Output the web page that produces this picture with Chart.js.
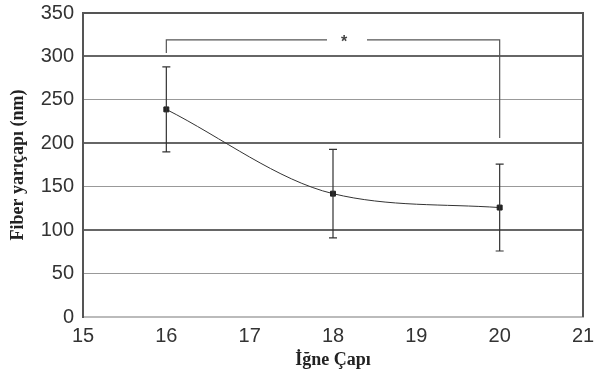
<!DOCTYPE html>
<html>
<head>
<meta charset="utf-8">
<script src="https://cdn.jsdelivr.net/npm/chart.js@4/dist/chart.umd.min.js"></script>
<style>
  html, body { margin: 0; padding: 0; background: #fff; }
  #wrap { width: 596px; height: 383px; }
</style>
</head>
<body>
<div id="wrap"><canvas id="myChart"></canvas></div>
<script>
// data
var needleSize = [16, 18, 20];
var fiberRadius = [239, 142, 126];
var radiusErr = [49, 51, 50];
var yTicks = [0, 50, 100, 150, 200, 250, 300, 350];
var xTicks = [15, 16, 17, 18, 19, 20, 21];
// significance bracket between 16 and 20
var bracketX = [16, 20];
var bracketTop = 319;
var bracketLegs = [304, 206];

var ctx = document.getElementById("myChart");
var tickFont = { family: '"Liberation Sans", Arial, sans-serif', size: 20 };
var titleFont = { family: '"Liberation Serif", "Times New Roman", serif', size: 18, weight: 'bold' };

var errorBars = {
    id: 'errorBars',
    afterDatasetsDraw: function (chart) {
        var xs = chart.scales.x, ys = chart.scales.y;
        var c = chart.ctx;
        c.save();
        c.strokeStyle = '#333';
        c.lineWidth = 1.2;
        needleSize.forEach(function (n, i) {
            var px = xs.getPixelForValue(n);
            var top = ys.getPixelForValue(fiberRadius[i] + radiusErr[i]);
            var bot = ys.getPixelForValue(fiberRadius[i] - radiusErr[i]);
            c.beginPath();
            c.moveTo(px, top); c.lineTo(px, bot);
            c.moveTo(px - 4, top); c.lineTo(px + 4, top);
            c.moveTo(px - 4, bot); c.lineTo(px + 4, bot);
            c.stroke();
        });

        // bracket with star
        var x1 = xs.getPixelForValue(bracketX[0]);
        var x2 = xs.getPixelForValue(bracketX[1]);
        var yt = ys.getPixelForValue(bracketTop);
        var mid = (x1 + x2) / 2;
        c.strokeStyle = '#555';
        c.lineWidth = 1.2;
        c.beginPath();
        c.moveTo(x1, ys.getPixelForValue(bracketLegs[0]));
        c.lineTo(x1, yt);
        c.lineTo(mid - 6, yt);
        c.moveTo(mid + 34, yt);
        c.lineTo(x2, yt);
        c.lineTo(x2, ys.getPixelForValue(bracketLegs[1]));
        c.stroke();
        c.fillStyle = '#444';
        c.font = 'bold 16px "Liberation Sans", Arial, sans-serif';
        c.textAlign = 'center';
        c.textBaseline = 'middle';
        c.fillText('*', mid + 11, yt + 3);
        c.restore();
    }
};

var myChart = new Chart(ctx, {
    type: 'scatter',
    data: {
        datasets: [{
            label: 'Fiber',
            data: needleSize.map(function (n, i) { return { x: n, y: fiberRadius[i] }; }),
            showLine: true,
            cubicInterpolationMode: 'monotone',
            borderColor: '#333',
            borderWidth: 1,
            pointStyle: 'rect',
            pointRadius: 3.5,
            pointBackgroundColor: '#222',
            pointBorderColor: '#222'
        }]
    },
    options: {
        responsive: true,
        maintainAspectRatio: false,
        animation: false,
        layout: { padding: { top: 13, right: 13, left: 0, bottom: 0 } },
        plugins: {
            legend: { display: false },
            tooltip: { enabled: false }
        },
        scales: {
            x: {
                type: 'linear',
                min: 15, max: 21,
                afterBuildTicks: function (s) { s.ticks = xTicks.map(function (v) { return { value: v }; }); },
                afterFit: function (s) { s.paddingRight = 0; s.paddingLeft = 0; s.height = 66; },
                border: { color: '#bbb', width: 2 },
                grid: { display: false, drawTicks: false },
                ticks: { color: '#333', padding: 7, font: tickFont },
                title: {
                    display: true,
                    text: 'İğne Çapı',
                    color: '#222',
                    padding: { top: 0, bottom: 12 },
                    font: titleFont
                }
            },
            y: {
                min: 0, max: 350,
                afterBuildTicks: function (s) { s.ticks = yTicks.map(function (v) { return { value: v }; }); },
                afterFit: function (s) { s.paddingTop = 0; s.paddingBottom = 0; s.width = 83; },
                border: { color: '#555', width: 2 },
                grid: {
                    drawTicks: false,
                    color: function (c) { return c.tick.value % 100 === 0 ? '#666' : '#999'; },
                    lineWidth: function (c) { return c.tick.value % 100 === 0 ? 2 : 1; }
                },
                ticks: { color: '#333', padding: 9, font: tickFont },
                title: {
                    display: true,
                    text: 'Fiber yarıçapı (nm)',
                    color: '#222',
                    padding: { top: 8, bottom: 0 },
                    font: titleFont
                }
            }
        }
    },
    plugins: [errorBars, {
        id: 'frame',
        afterDraw: function (chart) {
            var a = chart.chartArea, c = chart.ctx;
            c.save();
            c.strokeStyle = '#555';
            c.lineWidth = 2;
            c.beginPath();
            c.moveTo(a.left, a.top); c.lineTo(a.right, a.top); c.lineTo(a.right, a.bottom);
            c.stroke();
            c.restore();
        }
    }]
});
</script>
</body>
</html>
